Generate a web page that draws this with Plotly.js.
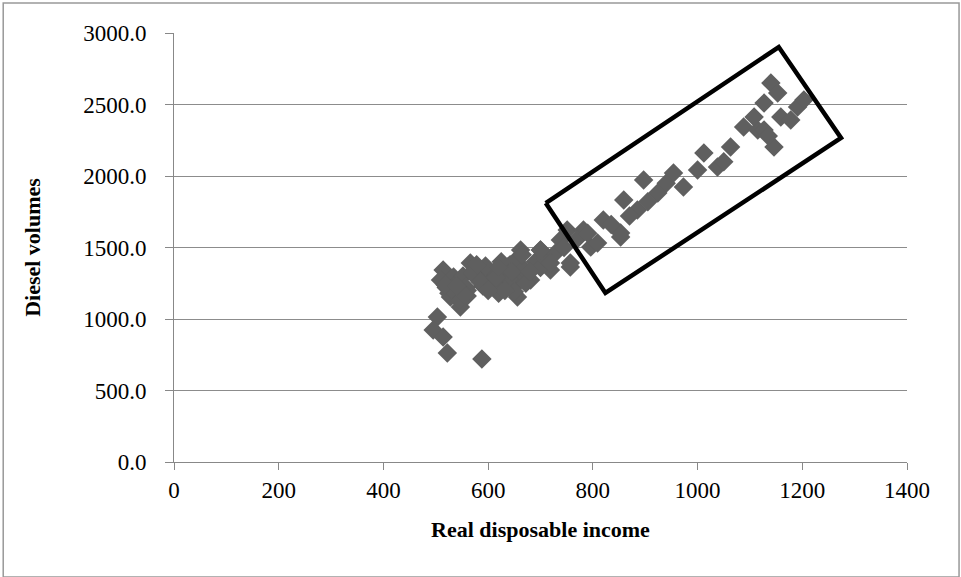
<!DOCTYPE html>
<html>
<head>
<meta charset="utf-8">
<script src="https://cdn.plot.ly/plotly-3.0.1.min.js"></script>
<style>html,body{margin:0;padding:0;background:#fff;}</style>
</head>
<body>
<div id="chart" style="width:961px;height:577px;"></div>
<script>
// Real disposable income vs diesel volumes
const income = [
  514, 509, 534, 566, 547, 528, 598, 618, 656, 662, 637, 681, 700, 719, 738, 757, 796, 853,
  503, 495, 514, 522, 588,
  520, 525, 540, 552, 560, 575, 580, 590, 600, 605, 612, 620, 628, 635, 642, 648, 655, 660,
  668, 672, 690, 545, 558, 570, 585, 595, 610, 625, 640, 650, 665, 530, 518, 560, 578, 615,
  632, 645, 700, 710, 728, 745, 555, 600, 620, 680, 540,
  700, 719, 757, 751, 782, 809, 820, 853, 859, 885, 897, 924, 954, 973, 1000, 1012, 1038,
  1063, 1088, 1115, 1127, 1140, 1153, 1146, 1159, 1178, 1191, 1203, 1127, 1108,
  770, 790, 835, 870, 905, 940, 1050, 1135
];
const diesel = [
  1343, 1273, 1294, 1392, 1084, 1154, 1322, 1203, 1154, 1483, 1364, 1273, 1483, 1343, 1552, 1364, 1503, 1573,
  1014, 923, 874, 762, 720,
  1220, 1180, 1250, 1300, 1200, 1350, 1280, 1230, 1300, 1260, 1330, 1180, 1250, 1300, 1380, 1220, 1420, 1300,
  1350, 1250, 1400, 1130, 1220, 1320, 1260, 1370, 1240, 1400, 1280, 1190, 1450, 1210, 1240, 1160, 1380, 1290,
  1200, 1330, 1360, 1420, 1460, 1500, 1170, 1200, 1360, 1330, 1230,
  1483, 1392, 1392, 1622, 1622, 1531, 1692, 1601, 1832, 1762, 1972, 1881, 2021, 1923, 2042, 2161, 2063,
  2203, 2343, 2322, 2510, 2650, 2580, 2203, 2413, 2392, 2483, 2531, 2322, 2413,
  1560, 1600, 1660, 1720, 1820, 1950, 2100, 2280
];
const boxX = [710, 1155, 1274, 824, 710];
const boxY = [1811, 2902, 2266, 1182, 1811];

const serif = 'Liberation Serif, Times New Roman, serif';

const points = {
  x: income,
  y: diesel,
  type: 'scatter',
  mode: 'markers',
  marker: { symbol: 'diamond', size: 15, color: '#5f5f5f' },
  hoverinfo: 'x+y'
};

const box = {
  x: boxX,
  y: boxY,
  type: 'scatter',
  mode: 'lines',
  line: { color: '#000', width: 4.5 },
  hoverinfo: 'skip'
};

const layout = {
  paper_bgcolor: 'white',
  plot_bgcolor: 'white',
  showlegend: false,
  margin: { l: 174, r: 54, t: 33, b: 115 },
  font: { family: serif, size: 23, color: '#000' },
  xaxis: {
    range: [0, 1400], dtick: 200, showgrid: false, zeroline: false,
    showline: true, linecolor: '#888', ticks: 'outside', tickcolor: '#888', ticklen: 7,
    title: { text: '<b>Real disposable income</b>', font: { family: serif, size: 22 }, standoff: 20 }
  },
  yaxis: {
    range: [0, 3000], dtick: 500, tickformat: '.1f', gridcolor: '#8c8c8c', zeroline: false,
    showline: true, linecolor: '#888', ticks: 'outside', tickcolor: '#888', ticklen: 8,
    ticklabelstandoff: 14,
    title: { text: '<b>Diesel volumes</b>', font: { family: serif, size: 22 }, standoff: 36 }
  },
  shapes: [
    { type: 'rect', xref: 'paper', yref: 'paper', x0: -0.233, x1: 1.071, y0: -0.268, y1: 1.07,
      line: { color: '#999', width: 1.5 } }
  ]
};

Plotly.newPlot('chart', [points, box], layout, { displayModeBar: false, staticPlot: true });
</script>
</body>
</html>
